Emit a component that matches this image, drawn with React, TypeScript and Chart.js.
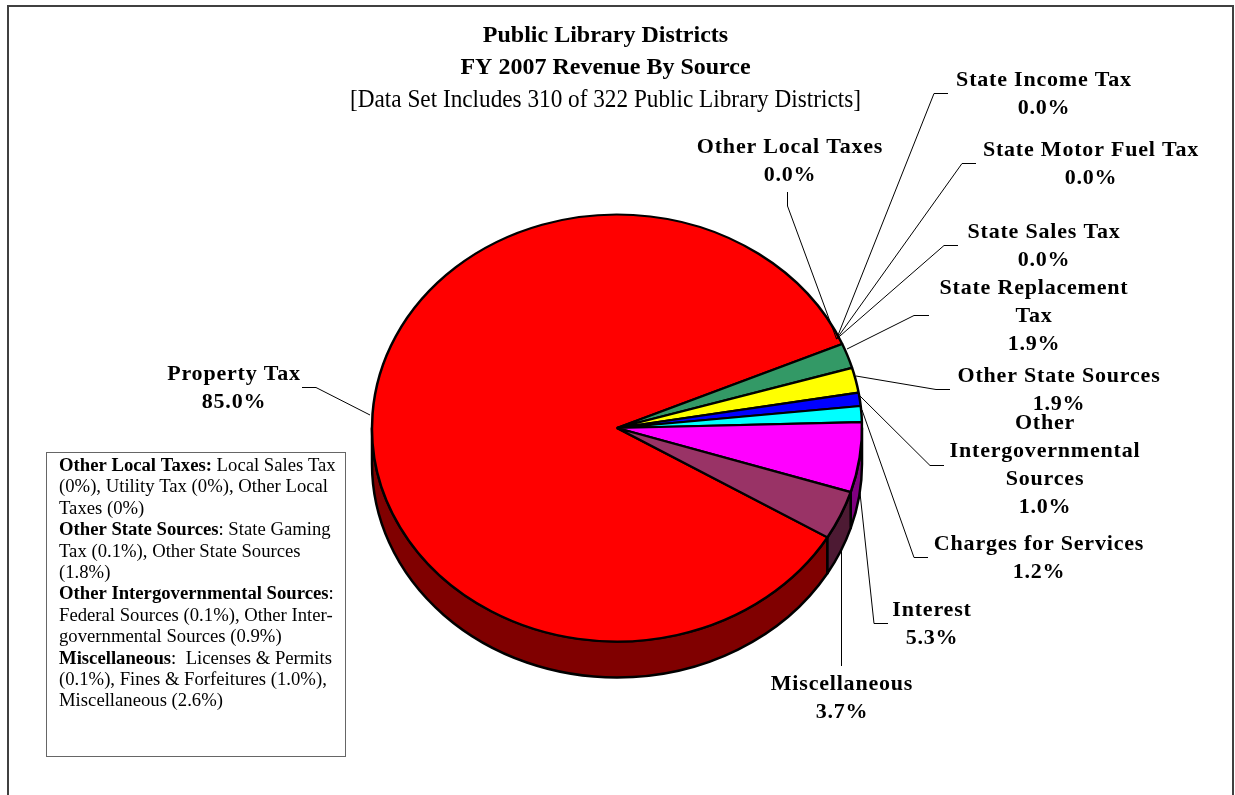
import React, { useEffect, useRef } from "react";
import { Chart, registerables } from "chart.js";

Chart.register(...registerables);

const categories = [
  "Property Tax",
  "Other Local Taxes",
  "State Income Tax",
  "State Motor Fuel Tax",
  "State Sales Tax",
  "State Replacement Tax",
  "Other State Sources",
  "Other Intergovernmental Sources",
  "Charges for Services",
  "Interest",
  "Miscellaneous",
];
const values = [85.0, 0.0, 0.0, 0.0, 0.0, 1.9, 1.9, 1.0, 1.2, 5.3, 3.7];
const faceColors = ["#FF0000", "#FFFFFF", "#FFFFFF", "#FFFFFF", "#FFFFFF", "#339966", "#FFFF00", "#0000FF", "#00FFFF", "#FF00FF", "#993366"];
const sideColors = ["#800000", "#808080", "#808080", "#808080", "#808080", "#1A4D33", "#808000", "#000080", "#008080", "#800080", "#4D1A33"];

const titleLines = ["Public Library Districts", "FY 2007 Revenue By Source"];
const subtitleText = "[Data Set Includes 310 of 322 Public Library Districts]";

// how each category's name wraps in its callout
const labelWraps = [
  ["Property Tax"],
  ["Other Local Taxes"],
  ["State Income Tax"],
  ["State Motor Fuel Tax"],
  ["State Sales Tax"],
  ["State Replacement", "Tax"],
  ["Other State Sources"],
  ["Other", "Intergovernmental", "Sources"],
  ["Charges for Services"],
  ["Interest"],
  ["Miscellaneous"],
];
// callout placement: text centre x, first baseline y
const labelAnchors = [
  [234, 380], [790, 153], [1044, 86], [1091, 156], [1044, 238], [1034, 294],
  [1059, 382], [1045, 429], [1039, 550], [932, 616], [842, 690],
];
// leader polylines
const leaders = [
  [[302, 387.5], [316, 387.5], [370, 415]],
  [[787.5, 192], [787.5, 206], [836.5, 339]],
  [[948, 93.5], [934, 93.5], [836.5, 339]],
  [[976, 163.5], [962, 163.5], [836.5, 339]],
  [[958, 245.5], [944, 245.5], [836.5, 339]],
  [[929, 315.5], [914, 315.5], [847, 349]],
  [[950, 389.5], [936, 389.5], [856, 376]],
  [[944, 465.5], [930, 465.5], [860, 396]],
  [[928, 557.5], [914, 557.5], [862, 410]],
  [[888, 623.5], [874, 623.5], [860, 493]],
  [[841.5, 666], [841.5, 549]],
];

type Seg = [string, boolean];
const noteLines: Seg[][] = [
  [["Other Local Taxes:", true], [" Local Sales Tax", false]],
  [["(0%), Utility Tax (0%), Other Local", false]],
  [["Taxes (0%)", false]],
  [["Other State Sources", true], [": State Gaming", false]],
  [["Tax (0.1%), Other State Sources", false]],
  [["(1.8%)", false]],
  [["Other Intergovernmental Sources", true], [":", false]],
  [["Federal Sources (0.1%), Other Inter-", false]],
  [["governmental Sources (0.9%)", false]],
  [["Miscellaneous", true], [":  Licenses & Permits", false]],
  [["(0.1%), Fines & Forfeitures (1.0%),", false]],
  [["Miscellaneous (2.6%)", false]],
];

const SERIF = '"Liberation Serif", "Times New Roman", serif';
const CX = 617;
const CY = 428;
const RX = 245;
const RY = 213.5;
const DEPTH = 36;

const pie3d = {
  id: "pie3d",
  beforeDatasetsDraw(chart: any) {
    const ctx = chart.ctx;
    const arcs = chart.getDatasetMeta(0).data;
    ctx.save();
    ctx.lineWidth = 2.5;
    ctx.strokeStyle = "#000";
    ctx.lineJoin = "round";
    arcs.forEach((el: any, i: number) => {
      if (el.circumference <= 0) return;
      for (let k = -1; k <= 1; k++) {
        const a = Math.max(el.startAngle + k * 2 * Math.PI, 0);
        const b = Math.min(el.endAngle + k * 2 * Math.PI, Math.PI);
        if (a >= b) continue;
        ctx.beginPath();
        ctx.ellipse(CX, CY, RX, RY, 0, a, b);
        ctx.ellipse(CX, CY + DEPTH, RX, RY, 0, b, a, true);
        ctx.closePath();
        ctx.fillStyle = sideColors[i];
        ctx.fill();
        ctx.stroke();
      }
    });
    ctx.restore();
    const first = arcs[0];
    ctx.save();
    ctx.translate(CX, CY);
    ctx.scale(1, RY / RX);
    ctx.translate(-first.x, -first.y);
  },
  afterDatasetsDraw(chart: any) {
    chart.ctx.restore();
  },
  afterDraw(chart: any) {
    const ctx = chart.ctx;
    ctx.save();
    // outer frame, open at the bottom
    ctx.strokeStyle = "#404040";
    ctx.lineWidth = 2;
    ctx.beginPath();
    ctx.moveTo(8, 795);
    ctx.lineTo(8, 6);
    ctx.lineTo(1233, 6);
    ctx.lineTo(1233, 795);
    ctx.stroke();

    // leaders
    ctx.strokeStyle = "#000";
    ctx.lineWidth = 1;
    leaders.forEach((pts) => {
      ctx.beginPath();
      pts.forEach((p, i) => (i ? ctx.lineTo(p[0], p[1]) : ctx.moveTo(p[0], p[1])));
      ctx.stroke();
    });

    // callouts
    ctx.fillStyle = "#000";
    ctx.textAlign = "center";
    ctx.textBaseline = "alphabetic";
    ctx.font = `bold 22px ${SERIF}`;
    (ctx as any).letterSpacing = "0.8px";
    categories.forEach((_, i) => {
      const lines = [...labelWraps[i], `${values[i].toFixed(1)}%`];
      lines.forEach((t, j) => ctx.fillText(t, labelAnchors[i][0], labelAnchors[i][1] + j * 28));
    });
    (ctx as any).letterSpacing = "0px";

    // note box
    ctx.strokeStyle = "#666";
    ctx.lineWidth = 1;
    ctx.fillStyle = "#fff";
    ctx.fillRect(46.5, 452.5, 299, 304);
    ctx.strokeRect(46.5, 452.5, 299, 304);
    ctx.fillStyle = "#000";
    ctx.textAlign = "left";
    noteLines.forEach((segs, i) => {
      let x = 59;
      const y = 471 + i * 21.4;
      segs.forEach(([t, bold]) => {
        ctx.font = `${bold ? "bold " : ""}18.7px ${SERIF}`;
        ctx.fillText(t, x, y);
        x += ctx.measureText(t).width;
      });
    });
    ctx.restore();
  },
};

export default function App() {
  const ref = useRef<HTMLCanvasElement>(null);
  useEffect(() => {
    const chart = new Chart(ref.current as HTMLCanvasElement, {
      type: "pie",
      data: {
        labels: categories,
        datasets: [
          {
            data: values,
            backgroundColor: faceColors,
            borderColor: "#000",
            borderWidth: 2.5,
            clip: false,
          } as any,
        ],
      },
      options: {
        animation: false,
        responsive: false,
        rotation: 120.8,
        radius: RX,
        events: [],
        layout: { padding: { left: 350, right: 374, top: 0, bottom: 0 } },
        plugins: {
          legend: { display: false },
          tooltip: { enabled: false },
          title: {
            display: true,
            text: titleLines,
            color: "#000",
            font: { family: SERIF, size: 24, weight: "bold", lineHeight: 32 / 24 },
            padding: { top: 20, bottom: 0 },
          },
          subtitle: {
            display: true,
            text: subtitleText,
            color: "#000",
            font: { family: SERIF, size: 25, weight: "normal", lineHeight: 32 / 25 },
            padding: { top: 0, bottom: 0 },
          },
        },
      } as any,
      plugins: [pie3d],
    });
    return () => chart.destroy();
  }, []);
  return (
    <div style={{ position: "fixed", left: 0, top: 0, width: 1235, height: 795, background: "#fff" }}>
      <canvas ref={ref} width={1235} height={795} style={{ display: "block" }} />
    </div>
  );
}
